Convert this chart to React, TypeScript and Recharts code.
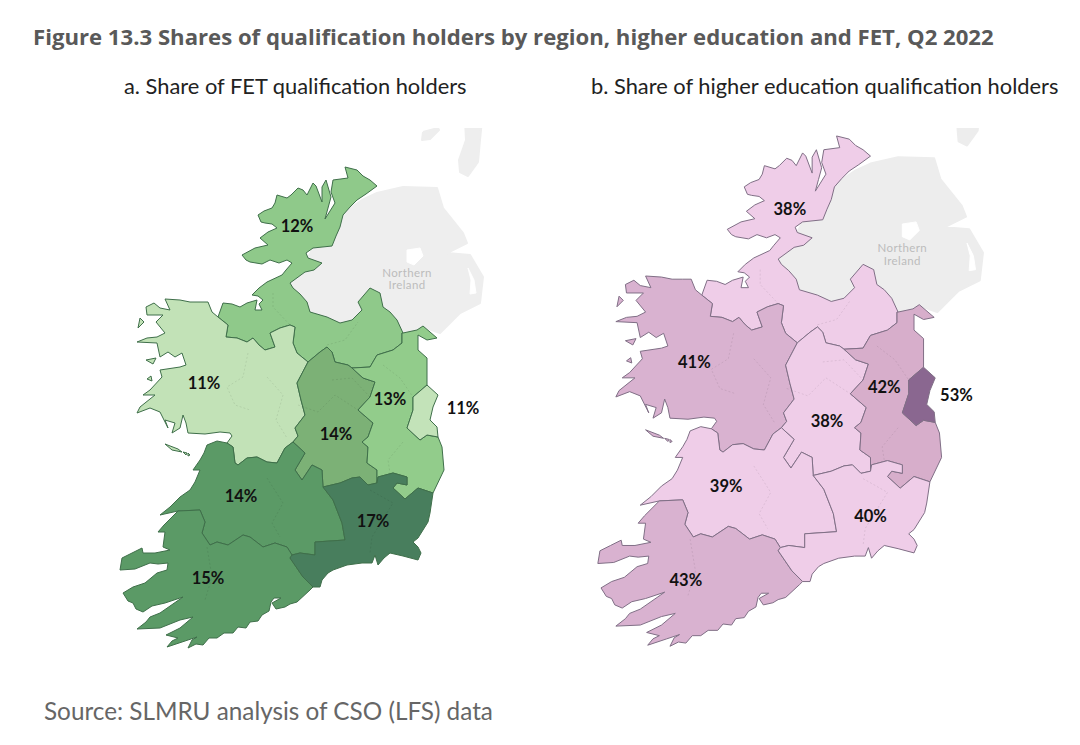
import { Scatter, ScatterChart, XAxis, YAxis } from 'recharts'

type Pt = [number, number]

// shared edges, in map units (panel a pixels)
const northCoast: Pt[] = [[290,283],[305,272],[314,270],[322,263],[308,258],[306,253],[313,248],[332,246],[336,236],[340,227],[343,215],[350,207],[357,200],[366,194],[377,186],[370,180],[363,176],[357,170],[345,167],[348,178],[333,180],[331,192],[335,203],[325,219],[328,208],[331,197],[326,180],[322,187],[322,202],[316,186],[313,183],[307,195],[303,190],[298,188],[291,195],[287,198],[277,195],[275,203],[272,208],[264,211],[258,215],[261,222],[265,223],[272,224],[277,228],[268,232],[260,238],[268,245],[255,248],[242,255],[246,260],[250,262],[262,264],[270,260],[279,263],[287,260],[292,263],[286,270],[282,275],[267,282],[259,288],[252,295],[258,296],[263,300],[259,304],[262,310],[255,310],[257,300],[247,303],[240,307],[232,304],[223,303],[218,317]]
const westBorderEdge: Pt[] = [[218,317],[228,325],[226,337],[237,338],[247,342],[253,338],[259,345],[265,350],[275,347],[270,333],[280,328],[290,325],[295,327],[293,343],[297,353],[308,362]]
const midlandsNorthEdge: Pt[] = [[308,362],[320,352],[327,347],[332,352],[335,362],[348,365],[352,368]]
const borderEastEdge: Pt[] = [[352,368],[370,367],[377,355],[393,350],[402,343],[402,333],[403,333]]
const niSouthEdge: Pt[] = [[403,333],[397,320],[390,312],[383,307],[380,293],[370,288],[358,302],[362,310],[352,320],[340,323],[327,317],[310,312],[307,302],[300,294],[293,288],[290,283]]
const westMidlandsEdge: Pt[] = [[308,362],[297,383],[301,400],[305,415],[295,428],[298,436],[293,442]]
const westMidwestEdge: Pt[] = [[293,442],[285,448],[277,463],[267,462],[257,457],[247,458],[238,465],[235,463],[233,447],[227,443]]
const westCoast: Pt[] = [[227,443],[232,436],[230,433],[220,432],[205,434],[188,433],[186,423],[183,415],[180,428],[172,433],[175,423],[165,420],[168,428],[160,412],[150,408],[137,413],[140,407],[155,395],[143,395],[150,390],[162,377],[160,370],[180,367],[186,365],[182,353],[175,357],[168,352],[160,357],[157,343],[137,342],[147,338],[157,337],[165,333],[156,322],[163,315],[147,315],[146,307],[154,303],[160,308],[170,310],[165,299],[180,300],[190,302],[200,302],[208,302],[212,312],[218,317]]
const midlandsMidwestEdge: Pt[] = [[293,442],[305,453],[295,470],[302,480],[312,465],[322,470],[323,487]]
const seMidlandsEdge: Pt[] = [[323,487],[340,483],[352,478],[360,477],[368,485],[377,483]]
const seMidEastEdge: Pt[] = [[377,483],[378,477],[393,473],[407,477],[407,485],[397,483],[393,488],[405,499],[418,488],[433,493]]
const midlandsEastEdge: Pt[] = [[352,368],[363,378],[375,382],[370,397],[358,410],[373,423],[368,437],[362,442],[368,447],[367,463],[377,470],[377,483]]
const midwestCoast: Pt[] = [[227,443],[217,441],[207,445],[204,453],[200,460],[193,470],[200,470],[195,482],[190,490],[180,497],[170,507],[160,515],[178,511]]
const midwestSwEdge: Pt[] = [[178,511],[200,510],[205,522],[202,533],[210,545],[217,542],[228,545],[243,535],[250,537],[263,547],[275,543],[287,547],[292,555]]
const midwestSeEdge: Pt[] = [[292,555],[300,553],[315,555],[315,542],[345,540],[342,523],[333,500],[323,487]]
const seCoast: Pt[] = [[433,493],[430,513],[428,522],[418,538],[413,542],[418,547],[421,553],[418,560],[403,556],[390,553],[384,558],[378,565],[375,555],[372,563],[362,563],[347,565],[333,570],[328,573],[322,580],[320,587],[313,587]]
const seSwEdge: Pt[] = [[313,587],[303,577],[290,558],[292,555]]
const swCoast: Pt[] = [[313,587],[310,590],[297,602],[290,604],[285,607],[276,609],[272,603],[281,598],[274,598],[271,602],[269,611],[262,615],[258,621],[250,622],[246,628],[238,627],[233,633],[224,633],[217,638],[209,638],[203,645],[196,644],[188,648],[192,640],[197,637],[185,641],[167,647],[172,641],[178,638],[166,635],[180,628],[193,617],[180,620],[160,628],[137,629],[146,622],[150,617],[160,613],[183,597],[165,603],[152,606],[143,612],[136,609],[133,603],[128,601],[123,593],[133,587],[145,583],[157,573],[167,570],[168,563],[158,564],[150,563],[135,569],[120,570],[122,558],[132,553],[142,548],[143,553],[155,553],[170,550],[163,547],[165,532],[158,532],[164,525],[178,511]]
const louthCoast: Pt[] = [[403,333],[417,330],[423,326],[437,338],[427,340],[418,335],[418,350],[427,358],[427,385]]
const dublinCoast: Pt[] = [[427,385],[438,395],[433,407],[430,420],[437,427],[438,437]]
const dublinInland: Pt[] = [[438,437],[427,435],[420,440],[407,428],[413,410],[413,397],[427,385]]
const wicklowCoast: Pt[] = [[438,437],[442,447],[444,470],[433,493]]

const back = (edge: Pt[]): Pt[] => [...edge].reverse()

// region outlines, same order as the share arrays below
const borderRegion = [...northCoast, ...westBorderEdge, ...midlandsNorthEdge, ...borderEastEdge, ...niSouthEdge]
const westRegion = [...westBorderEdge, ...westMidlandsEdge, ...westMidwestEdge, ...westCoast]
const midlandsRegion = [...midlandsNorthEdge, ...midlandsEastEdge, ...back(seMidlandsEdge), ...back(midlandsMidwestEdge), ...back(westMidlandsEdge)]
const midEastRegion = [...borderEastEdge, ...louthCoast, ...back(dublinInland), ...wicklowCoast, ...back(seMidEastEdge), ...back(midlandsEastEdge)]
const dublinRegion = [...dublinCoast, ...dublinInland]
const midwestRegion = [...back(westMidwestEdge), ...midlandsMidwestEdge, ...back(midwestSeEdge), ...back(midwestSwEdge), ...back(midwestCoast)]
const swRegion = [...midwestSwEdge, ...back(seSwEdge), ...swCoast]
const seRegion = [...seMidlandsEdge, ...seMidEastEdge, ...seCoast, ...seSwEdge, ...midwestSeEdge]

const regions = [borderRegion, westRegion, midlandsRegion, midEastRegion, dublinRegion, midwestRegion, swRegion, seRegion]

const niShape: Pt[] = [[290,283],[305,272],[322,263],[308,258],[313,248],[332,246],[340,227],[343,213],[362,200],[377,193],[403,187],[437,188],[443,208],[463,233],[467,243],[447,253],[470,255],[483,277],[480,303],[460,313],[440,333],[423,327],[403,333],[397,320],[383,307],[380,293],[370,288],[358,302],[362,310],[352,320],[340,323],[327,317],[310,312],[307,302],[293,288]]
const kintyre: Pt[] = [[465,120],[482,120],[480,140],[478,162],[468,176],[460,172],[459,160],[466,140]]
const islay: Pt[] = [[423,132],[438,128],[439,130],[430,139],[422,140]]
const loughNeagh: Pt[] = [[407,250],[420,248],[423,256],[414,265],[407,262]]
const strangford: Pt[] = [[468,268],[474,280],[476,293],[470,294],[471,280]]
const islands: Pt[][] = [[[165,444],[178,449],[182,452],[172,450]],[[183,452],[187,453],[186,455]],[[188,453],[190,455],[188,456]],[[140,318],[144,322],[138,328]],[[146,360],[156,358],[153,364]],[[147,379],[151,376],[152,381]]]

// faint county boundaries inside the regions
const countyLines: Pt[][] = [
  [[248,353],[243,377],[227,387],[235,405],[250,410]],
  [[267,377],[283,395],[276,420],[287,438]],
  [[207,547],[212,577],[205,600]],
  [[267,478],[283,503],[272,523],[280,537]],
  [[370,490],[393,503],[372,537],[370,553]],
  [[403,442],[388,460],[390,473]],
  [[298,405],[318,412],[335,395],[358,410]],
  [[332,380],[352,378],[370,397]],
  [[273,293],[273,307],[290,325]],
  [[327,345],[345,340],[358,322]],
  [[383,365],[400,378],[413,397]],
]

const fetShares = [12, 11, 14, 13, 11, 14, 15, 17]
const heShares = [38, 41, 38, 42, 53, 39, 43, 40]
const fetFills = ['#8fc98a', '#c2e2b7', '#7cb176', '#92cc8b', '#c3e3b9', '#5b9a66', '#5b9a66', '#487e5d']
const heFills = ['#efcde8', '#d9b2d0', '#efcde8', '#d7aecb', '#8a6790', '#efcde8', '#d9b2d0', '#efcde8']

// label anchors in map units
const fetLabelSpots: Pt[] = [[297,226],[204,383],[336,434],[390,399],[463,408],[241,496],[208,578],[373,521]]
const heLabelSpots: Pt[] = [[301,236],[211,380],[336,436],[390,404],[458,411],[241,497],[203,586],[377,525]]
const niLabels = [{ x: 407, y: 272, label: 'Northern' }, { x: 407, y: 284, label: 'Ireland' }]

const toData = (pts: Pt[]) => [...pts, pts[0]].map(([x, y]) => ({ x, y }))
const noMark = () => null

function RegionMap(props: {
  left: number; top: number; width: number; height: number; yStart: number
  fills: string[]; shares: number[]; spots: Pt[]; stroke: string; grey: string
}) {
  const { left, top, width, height, yStart, fills, shares, spots, stroke, grey } = props
  const labels = spots.map(([x, y], i) => ({ x, y, label: `${shares[i]}%` }))
  return (
    <div style={{ position: 'absolute', left, top, width, height, overflow: 'hidden' }}>
      <ScatterChart width={width} height={height} margin={{ top: 0, right: 0, bottom: 0, left: 0 }}>
        <XAxis type="number" dataKey="x" domain={[90, 500]} hide allowDataOverflow />
        <YAxis type="number" dataKey="y" domain={[yStart, 660]} reversed hide allowDataOverflow />
        {[niShape, kintyre, islay].map((pts, i) => (
          <Scatter key={`ni${i}`} data={toData(pts)} line={{ fill: grey, stroke: grey, strokeWidth: 2, strokeLinejoin: 'round' }} shape={noMark} isAnimationActive={false} />
        ))}
        {[loughNeagh, strangford].map((pts, i) => (
          <Scatter key={`lake${i}`} data={toData(pts)} line={{ fill: '#ffffff', stroke: '#ffffff', strokeWidth: 1 }} shape={noMark} isAnimationActive={false} />
        ))}
        <Scatter
          data={niLabels}
          isAnimationActive={false}
          shape={(p: any) => (
            <text x={p.cx} y={p.cy} textAnchor="middle" dominantBaseline="central" fontFamily="Lato, sans-serif" fontSize={11.5} letterSpacing={0.4} fill="#bcbcbc">
              {p.payload.label}
            </text>
          )}
        />
        {regions.map((pts, i) => (
          <Scatter key={i} data={toData(pts)} line={{ fill: fills[i], stroke, strokeWidth: 1, strokeLinejoin: 'round' }} shape={noMark} isAnimationActive={false} />
        ))}
        {islands.map((pts, i) => (
          <Scatter key={`isle${i}`} data={toData(pts)} line={{ fill: fills[1], stroke, strokeWidth: 1 }} shape={noMark} isAnimationActive={false} />
        ))}
        {countyLines.map((pts, i) => (
          <Scatter key={`county${i}`} data={pts.map(([x, y]) => ({ x, y }))} line={{ stroke: 'rgba(0,0,0,0.08)', strokeWidth: 1, strokeDasharray: '2 2' }} shape={noMark} isAnimationActive={false} />
        ))}
        <Scatter
          data={labels}
          isAnimationActive={false}
          shape={(p: any) => (
            <text x={p.cx} y={p.cy} textAnchor="middle" dominantBaseline="central" fontFamily="Lato, sans-serif" fontWeight={700} fontSize={16.5} fill="#111111">
              {p.payload.label}
            </text>
          )}
        />
      </ScatterChart>
    </div>
  )
}

const textBase = { position: 'absolute', margin: 0, whiteSpace: 'nowrap', fontFamily: 'Lato, sans-serif' } as const

export default function App() {
  return (
    <div style={{ position: 'absolute', left: 0, top: 0, width: 1080, height: 745, background: '#ffffff', overflow: 'hidden' }}>
      <div style={{ ...textBase, left: 33, top: 21, fontFamily: '"Open Sans", sans-serif', fontSize: 22.15, fontWeight: 700, color: '#595959' }}>
        Figure 13.3 Shares of qualification holders by region, higher education and FET, Q2 2022
      </div>
      <div style={{ ...textBase, left: 124, top: 72, fontSize: 21.85, fontWeight: 400, color: '#222222' }}>a. Share of FET qualification holders</div>
      <div style={{ ...textBase, left: 591, top: 72, fontSize: 21.85, fontWeight: 400, color: '#222222' }}>b. Share of higher education qualification holders</div>
      <RegionMap left={90} top={128} width={410} height={532} yStart={128} fills={fetFills} shares={fetShares} spots={fetLabelSpots} stroke="#3f6f4a" grey="#eeeeee" />
      <RegionMap left={566} top={128} width={435} height={531} yStart={159.5} fills={heFills} shares={heShares} spots={heLabelSpots} stroke="#806f86" grey="#ededed" />
      <div style={{ ...textBase, left: 44, top: 696, fontSize: 24.3, fontWeight: 400, color: '#666666' }}>Source: SLMRU analysis of CSO (LFS) data</div>
    </div>
  )
}
